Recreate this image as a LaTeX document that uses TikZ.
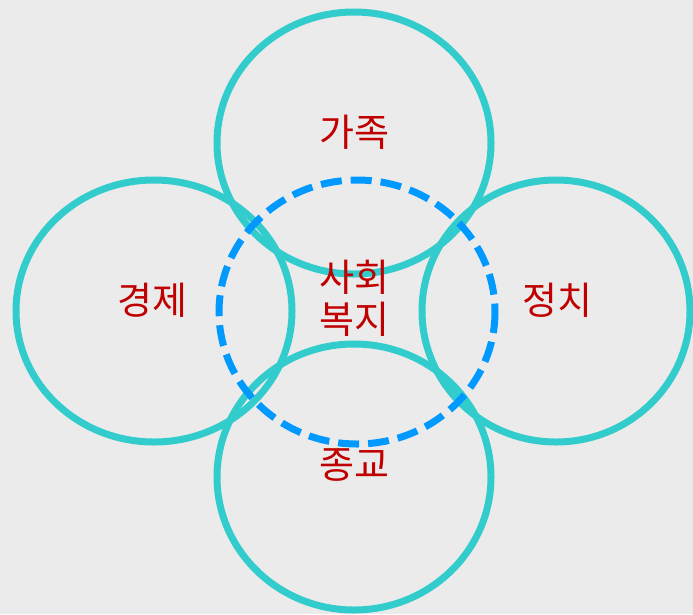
\documentclass[tikz,border=0pt]{standalone}
\usepackage{fontspec}
\newfontfamily\kr{Noto Sans CJK KR}
\definecolor{bg}{HTML}{EBEBEB}
\definecolor{teal1}{HTML}{33CCCC}
\definecolor{blue1}{HTML}{0099FF}
\definecolor{red1}{HTML}{C00000}
\begin{document}
\begin{tikzpicture}[x=1pt,y=-1pt,
  ring/.style={draw=teal1,line width=7pt},
  dashring/.style={draw=blue1,line width=7pt,dash pattern=on 21pt off 9pt},
  lbl/.style={text=red1,font=\kr\fontsize{38}{44}\selectfont,align=center,inner sep=0pt}]
\fill[bg] (0,0) rectangle (693,614);
\useasboundingbox (0,0) rectangle (693,614);
\draw[ring] (354,143) ellipse [x radius=137, y radius=131];
\draw[ring] (154,311) ellipse [x radius=138, y radius=131];
\draw[ring] (556,311) ellipse [x radius=134, y radius=131];
\draw[ring] (354,477) ellipse [x radius=137, y radius=133];
\draw[dashring] (357,312) ellipse [x radius=138, y radius=132];
\node[lbl] (fam) at (354,132) {가족};
\node[lbl] (eco) at (152,300) {경제};
\node[lbl] (pol) at (557,300) {정치};
\node[lbl] (wel) at (354,298) {사회\\[-2pt]복지};
\node[lbl] (rel) at (354,465) {종교};
\end{tikzpicture}
\end{document}
